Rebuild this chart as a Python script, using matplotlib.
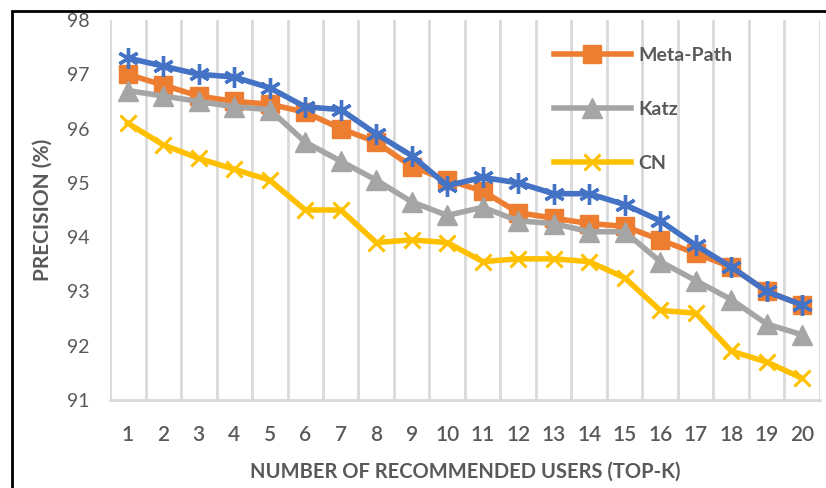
import matplotlib.pyplot as plt
from matplotlib.patches import Rectangle
import numpy as np

plt.rcParams['font.family'] = ['Lato', 'DejaVu Sans']

# Precision (%) for top-K recommended users, K = 1..20
top_k = list(range(1, 21))
meta_path = [97.0, 96.8, 96.6, 96.5, 96.45, 96.3, 96.0, 95.75, 95.3, 95.05,
             94.85, 94.45, 94.35, 94.25, 94.2, 93.95, 93.7, 93.45, 93.0, 92.75]
katz = [96.7, 96.6, 96.5, 96.4, 96.35, 95.75, 95.4, 95.05, 94.65, 94.4,
        94.55, 94.3, 94.25, 94.1, 94.1, 93.55, 93.2, 92.85, 92.4, 92.2]
cn = [96.1, 95.7, 95.45, 95.25, 95.05, 94.5, 94.5, 93.9, 93.95, 93.9,
      93.55, 93.6, 93.6, 93.55, 93.25, 92.65, 92.6, 91.9, 91.7, 91.4]
proposed = [97.3, 97.15, 97.0, 96.95, 96.75, 96.4, 96.35, 95.9, 95.5, 94.95,
            95.1, 95.0, 94.8, 94.8, 94.6, 94.3, 93.85, 93.45, 93.0, 92.75]

text_color = '#595959'

fig = plt.figure(figsize=(8.26, 4.88), dpi=100)
ax = fig.add_axes([110 / 826, 88 / 488, 710 / 826, 380 / 488])

x = np.arange(len(top_k))
ax.plot(x, meta_path, color='#ED7D31', lw=4, marker='s', ms=12.5, label='Meta-Path', zorder=3)
ax.plot(x, katz, color='#A5A5A5', lw=4, marker='^', ms=14, label='Katz', zorder=4)
ax.plot(x, cn, color='#FFC000', lw=4, marker='x', ms=12, mew=2.2, label='CN', zorder=5)
ax.plot(x, proposed, color='#4472C4', lw=4, marker=(6, 2, 0), ms=15, mew=2.4, zorder=6)

ax.set_xlim(-0.5, len(top_k) - 0.5)
ax.set_ylim(91, 98)
ax.set_yticks(range(91, 99))
ax.set_xticks(x)
ax.set_xticklabels([str(k) for k in top_k], fontweight='semibold')

# vertical gridlines on category boundaries
for b in np.arange(-0.5, len(top_k), 1.0):
    ax.axvline(b, color='#D9D9D9', lw=2, zorder=1)

for side in ['left', 'right', 'top']:
    ax.spines[side].set_visible(False)
ax.spines['bottom'].set_color('#D9D9D9')
ax.spines['bottom'].set_linewidth(2)

ax.tick_params(axis='both', length=0, labelcolor=text_color)
ax.tick_params(axis='x', pad=18, labelsize=15)
ax.tick_params(axis='y', pad=15, labelsize=14)

ax.set_ylabel('PRECISION (%)', fontsize=15, fontweight='bold', color=text_color, labelpad=10)
ax.set_xlabel('NUMBER OF RECOMMENDED USERS (TOP-K)', fontsize=14.5, fontweight='bold',
              color=text_color, labelpad=12)

leg = ax.legend(loc='upper left', bbox_to_anchor=(0.6, 0.975), frameon=False,
                fontsize=14, labelspacing=1.9, handlelength=4.0, handletextpad=0.35)
for t in leg.get_texts():
    t.set_color(text_color)
    t.set_fontweight('bold')

# outer frame around the whole chart
fig.patches.append(Rectangle((12 / 826, -0.1), 1.0, 1.1 - 11 / 488, transform=fig.transFigure,
                             fill=False, edgecolor='black', lw=2))

fig.savefig('out.png', dpi=100)
